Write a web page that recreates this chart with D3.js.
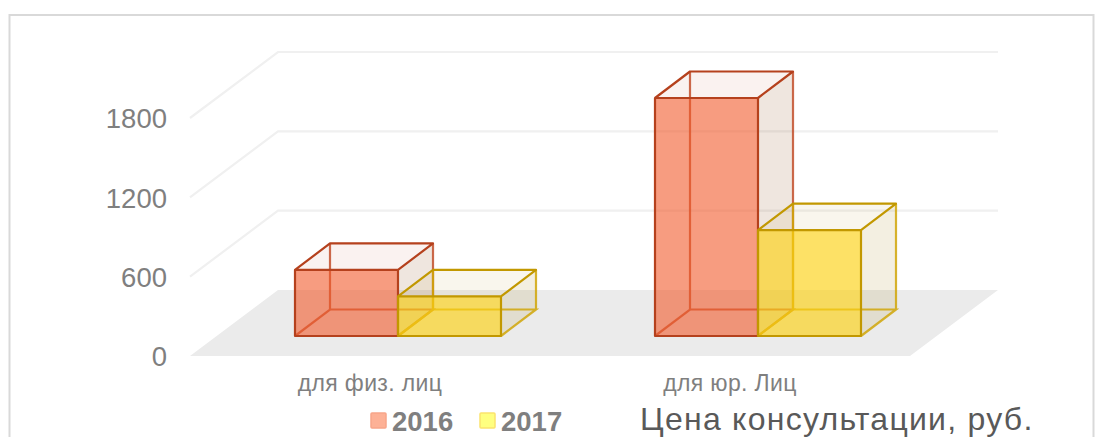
<!DOCTYPE html>
<html><head><meta charset="utf-8">
<script src="https://cdn.jsdelivr.net/npm/d3@7"></script>
<style>html,body{margin:0;padding:0;background:#fff;overflow:hidden}svg{display:block;font-family:"Liberation Sans",Arial,sans-serif}</style>
</head><body><svg id="c" width="1099" height="437"></svg>
<script>
const categories = ["для физ. лиц", "для юр. Лиц"];
const seriesNames = ["2016", "2017"];
const values2016 = [500, 1800];
const values2017 = [300, 800];
const yTicks = [0, 600, 1200, 1800];
const gridTicks = [600, 1200, 1800];
const titleText = "Цена консультации, руб.";

const svg = d3.select("#c");
const x = d3.scaleBand().domain(categories).range([190, 910]);
const y = d3.scaleLinear().domain([0, 1800]).range([356, 118]);
const inner = d3.scaleBand().domain(seriesNames).range([0, 206]);
const wall = {dx: 88, dy: -66};
const box = {dx: 35, dy: -26.5, inset: 105, lift: 20};
const palette = {
  "2016": {front:"rgba(241,90,43,.6)", top:"rgba(190,90,60,.08)", side:"rgba(140,75,30,.14)", edge:"#b5411d", back:"#c24f2b", swatch:"#fdb196", swatchEdge:"#f7a589"},
  "2017": {front:"rgba(252,209,20,.65)", top:"rgba(190,160,50,.09)", side:"rgba(170,140,40,.14)", edge:"#c29800", back:"#d0a608", swatch:"#ffff80", swatchEdge:"#fbe36e"}
};
const pts = a => a.map(p => p.join(",")).join(" ");

// frame
svg.append("rect").attr("x", 9.5).attr("y", 15).attr("width", 1084).attr("height", 450)
  .attr("fill", "#fff").attr("stroke", "#d9d9d9").attr("stroke-width", 2);

// floor
const [x0, x1] = x.range();
svg.append("polygon").attr("fill", "#ebebeb")
  .attr("points", pts([[x0, y(0)], [x0 + wall.dx, y(0) + wall.dy], [x1 + wall.dx, y(0) + wall.dy], [x1, y(0)]]));

// walls
svg.append("g").selectAll("polyline").data(gridTicks).join("polyline")
  .attr("fill", "none").attr("stroke", "#f0f0f0").attr("stroke-width", 2.2)
  .attr("points", d => pts([[x0, y(d)], [x0 + wall.dx, y(d) + wall.dy], [x1 + wall.dx, y(d) + wall.dy]]));

// axes
const yAxis = svg.append("g").attr("transform", "translate(167,1)")
  .call(d3.axisLeft(y).tickValues(yTicks).tickSize(0).tickPadding(0).tickFormat(d3.format("d")));
yAxis.select(".domain").remove();
yAxis.selectAll("text").attr("font-size", 27.5).attr("fill", "#7f7f7f").attr("font-family", "Liberation Sans");

const xAxis = svg.append("g").attr("transform", "translate(0,375)")
  .call(d3.axisBottom(x).tickSize(0).tickPadding(0));
xAxis.select(".domain").remove();
xAxis.selectAll("text").attr("font-size", 23).attr("letter-spacing", "0.35px").attr("fill", "#7f7f7f").attr("font-family", "Liberation Sans").attr("dy", "0.7em");

// bars
const rows = [];
categories.forEach((c, i) => {
  rows.push({cat: c, s: "2016", v: values2016[i]});
  rows.push({cat: c, s: "2017", v: values2017[i]});
});
rows.forEach(r => {
  const g = svg.append("g");
  const c = palette[r.s];
  const l = x(r.cat) + box.inset + inner(r.s), w = inner.bandwidth();
  const b = y(0) - box.lift, t = b - (y(0) - y(r.v));
  const R = l + w, dx = box.dx, dy = box.dy;
  g.append("polygon").attr("fill", c.top).attr("points", pts([[l, t], [R, t], [R + dx, t + dy], [l + dx, t + dy]]));
  g.append("polygon").attr("fill", c.side).attr("points", pts([[R, t], [R + dx, t + dy], [R + dx, b + dy], [R, b]]));
  g.append("path").attr("fill", "none").attr("stroke", c.back).attr("stroke-width", 2.2).attr("stroke-opacity", .85)
    .attr("d", `M${l},${b}L${l + dx},${b + dy}L${R + dx},${b + dy}L${R},${b}M${l + dx},${b + dy}L${l + dx},${t + dy}M${R + dx},${b + dy}L${R + dx},${t + dy}`);
  g.append("rect").attr("x", l).attr("y", t).attr("width", w).attr("height", b - t).attr("fill", c.front);
  g.append("path").attr("fill", "none").attr("stroke", c.edge).attr("stroke-width", 2.2).attr("stroke-linejoin", "round")
    .attr("d", `M${l},${b}L${l},${t}L${R},${t}L${R},${b}ZM${l},${t}L${l + dx},${t + dy}L${R + dx},${t + dy}L${R},${t}`);
});

// legend
const legendX = d3.scaleOrdinal().domain(seriesNames).range([371, 480]);
const lg = svg.append("g").selectAll("g").data(seriesNames).join("g")
  .attr("transform", d => `translate(${legendX(d)},413)`);
lg.append("rect").attr("width", 15).attr("height", 15).attr("rx", 1)
  .attr("fill", d => palette[d].swatch).attr("stroke", d => palette[d].swatchEdge).attr("stroke-width", 1.5);
lg.append("text").attr("x", 21).attr("y", 17.5).attr("font-size", 27.5).attr("font-weight", 700)
  .attr("fill", "#7f7f7f").text(d => d);

// title
svg.append("text").attr("x", 640).attr("y", 430).attr("font-size", 32).attr("letter-spacing", "1.25px")
  .attr("fill", "#595959").text(titleText);
</script></body></html>
